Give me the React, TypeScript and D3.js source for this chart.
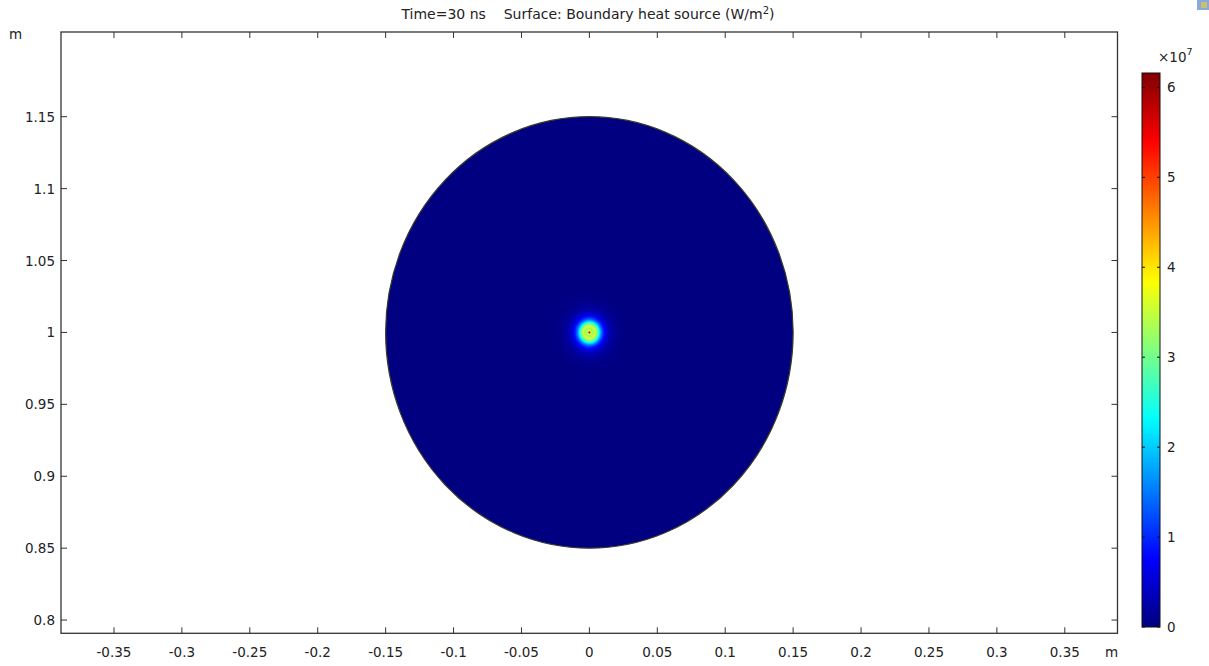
import React from "react";
import * as d3 from "d3";

// ---- data ----
const xTicks = [-0.35, -0.3, -0.25, -0.2, -0.15, -0.1, -0.05, 0, 0.05, 0.1, 0.15, 0.2, 0.25, 0.3, 0.35];
const yTicks = [0.8, 0.85, 0.9, 0.95, 1, 1.05, 1.1, 1.15];
const colorbarTicks = [0, 1, 2, 3, 4, 5, 6];
const colorbarMax = 6.16; // x10^7 W/m^2
const diskCenter = [0, 1];
const diskRadius = 0.15;
// radial heat-source profile around the spot (radius in mm, value in 1e7 W/m^2)
const profileRadiusMm = [0, 0.5, 1.0, 1.6, 3, 4.4, 5.9, 7.4, 8.8, 10.3, 12.5, 15.5, 20.6, 29.5];
const profileValue = [6.16, 5.2, 4.0, 3.3, 3.3, 3.6, 3.0, 2.2, 1.5, 1.0, 0.55, 0.25, 0.07, 0];
const titleMain = "Time=30 ns    Surface: Boundary heat source (W/m";

// ---- layout ----
const W = 1209, H = 666;
const L = 61, R = 1117.5, T = 32, B = 633.3;
const cbX = 1142, cbW = 18, cbTop = 73, cbBottom = 627;
const font = "'DejaVu Sans', sans-serif";
const fs = 13.5;
const ink = "#222";

function jet(t: number) {
  const c = (v: number) => Math.max(0, Math.min(1, v));
  const r = c(1.5 - Math.abs(4 * t - 3));
  const g = c(1.5 - Math.abs(4 * t - 2));
  const b = c(1.5 - Math.abs(4 * t - 1));
  return d3.rgb(r * 255, g * 255, b * 255).formatHex();
}

export default function App() {
  const x = d3.scaleLinear().domain([-0.389, 0.3888]).range([L, R]);
  const y = d3.scaleLinear().domain([0.7908, 1.2089]).range([B, T]);
  const cb = d3.scaleLinear().domain([0, colorbarMax]).range([cbBottom, cbTop]);
  const profile = d3.scaleLinear().domain(profileRadiusMm).range(profileValue).clamp(true);

  const cx = x(diskCenter[0]);
  const cy = y(diskCenter[1]);
  const rx = x(diskRadius) - x(0);
  const ry = y(1) - y(1 + diskRadius);

  const spotR = profileRadiusMm[profileRadiusMm.length - 1] / 1000;
  const spotRx = x(spotR) - x(0);
  const spotRy = y(1) - y(1 + spotR);
  const spotStops = d3.range(0, 301).map((i) => {
    const f = i / 300;
    const v = profile(f * spotR * 1000);
    return { off: f, col: jet(v / colorbarMax) };
  });
  const cbStops = d3.range(0, 51).map((i) => ({ off: i / 50, col: jet(1 - i / 50) }));

  return (
    <svg width={W} height={H} style={{ position: "fixed", left: 0, top: 0, background: "#fff" }}>
      <defs>
        <radialGradient id="spot" cx="50%" cy="50%" r="50%">
          {spotStops.map((s, i) => (
            <stop key={i} offset={s.off} stopColor={s.col} />
          ))}
        </radialGradient>
        <linearGradient id="cbg" x1="0" y1="0" x2="0" y2="1">
          {cbStops.map((s, i) => (
            <stop key={i} offset={s.off} stopColor={s.col} />
          ))}
        </linearGradient>
        <clipPath id="diskClip">
          <ellipse cx={cx} cy={cy} rx={rx} ry={ry} />
        </clipPath>
      </defs>

      {/* title */}
      <text x={588} y={19} textAnchor="middle" fontFamily={font} fontSize={14} fill={ink} style={{ whiteSpace: "pre" }}>
        {titleMain}
        <tspan dy={-5} fontSize={10}>2</tspan>
        <tspan dy={5}>)</tspan>
      </text>

      {/* disk */}
      <ellipse cx={cx} cy={cy} rx={rx} ry={ry} fill={jet(0)} />
      <g clipPath="url(#diskClip)">
        <ellipse cx={cx} cy={cy} rx={spotRx} ry={spotRy} fill="url(#spot)" />
      </g>
      <ellipse cx={cx} cy={cy} rx={rx} ry={ry} fill="none" stroke="#3a3a2a" strokeWidth={1.2} />

      {/* frame */}
      <rect x={L} y={T} width={R - L} height={B - T} fill="none" stroke="#333" strokeWidth={1.3} />
      {xTicks.map((t) => (
        <g key={"x" + t}>
          <line x1={x(t)} x2={x(t)} y1={B} y2={B - 6} stroke="#333" />
          <line x1={x(t)} x2={x(t)} y1={T} y2={T + 6} stroke="#333" />
          <text x={x(t)} y={657} textAnchor="middle" fontFamily={font} fontSize={fs} fill={ink}>
            {String(t)}
          </text>
        </g>
      ))}
      {yTicks.map((t) => (
        <g key={"y" + t}>
          <line x1={L} x2={L + 6} y1={y(t)} y2={y(t)} stroke="#333" />
          <line x1={R} x2={R - 6} y1={y(t)} y2={y(t)} stroke="#333" />
          <text x={55} y={y(t) + 5} textAnchor="end" fontFamily={font} fontSize={fs} fill={ink}>
            {String(t)}
          </text>
        </g>
      ))}
      <text x={9} y={39} fontFamily={font} fontSize={fs} fill={ink}>m</text>
      <text x={1105} y={657} fontFamily={font} fontSize={fs} fill={ink}>m</text>

      {/* colorbar */}
      <rect x={cbX} y={cbTop} width={cbW} height={cbBottom - cbTop} fill="url(#cbg)" stroke="#111" strokeWidth={1} />
      {colorbarTicks.map((t) => (
        <g key={"c" + t}>
          <line x1={cbX} x2={cbX + 3} y1={cb(t)} y2={cb(t)} stroke="#111" />
          <line x1={cbX + cbW} x2={cbX + cbW - 3} y1={cb(t)} y2={cb(t)} stroke="#111" />
          <text x={1167} y={cb(t) + 5} fontFamily={font} fontSize={fs} fill={ink}>
            {String(t)}
          </text>
        </g>
      ))}
      <text x={1158} y={62} fontFamily={font} fontSize={fs} fill={ink}>
        ×10
        <tspan dy={-7} fontSize={9.5}>7</tspan>
      </text>

      {/* corner icon */}
      <rect x={1197} y={0} width={12} height={10} fill="#3a6fc4" opacity={0.6} />
      <rect x={1201} y={2} width={6} height={6} fill="#e8c840" opacity={0.7} />
    </svg>
  );
}
